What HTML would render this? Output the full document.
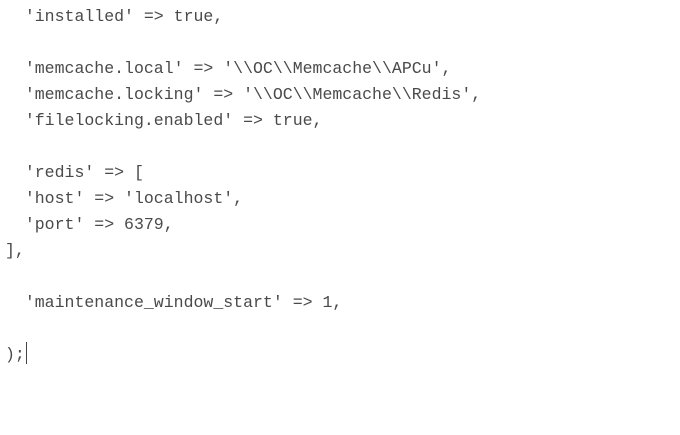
<!DOCTYPE html>
<html><head><meta charset="utf-8"><style>
html,body{margin:0;padding:0;background:#fff;width:680px;height:435px;overflow:hidden}
pre{margin:0;position:absolute;left:5px;top:4px;font-family:"Liberation Mono",monospace;font-size:16.55px;line-height:26px;color:#4a4a4a}
.cur{display:inline-block;width:1px;height:22px;background:#444;vertical-align:-5px;margin-left:1px}
</style></head><body>
<pre>  'installed' =&gt; true,

  'memcache.local' =&gt; '\\OC\\Memcache\\APCu',
  'memcache.locking' =&gt; '\\OC\\Memcache\\Redis',
  'filelocking.enabled' =&gt; true,

  'redis' =&gt; [
  'host' =&gt; 'localhost',
  'port' =&gt; 6379,
],

  'maintenance_window_start' =&gt; 1,

);<span class="cur"></span></pre>
</body></html>
